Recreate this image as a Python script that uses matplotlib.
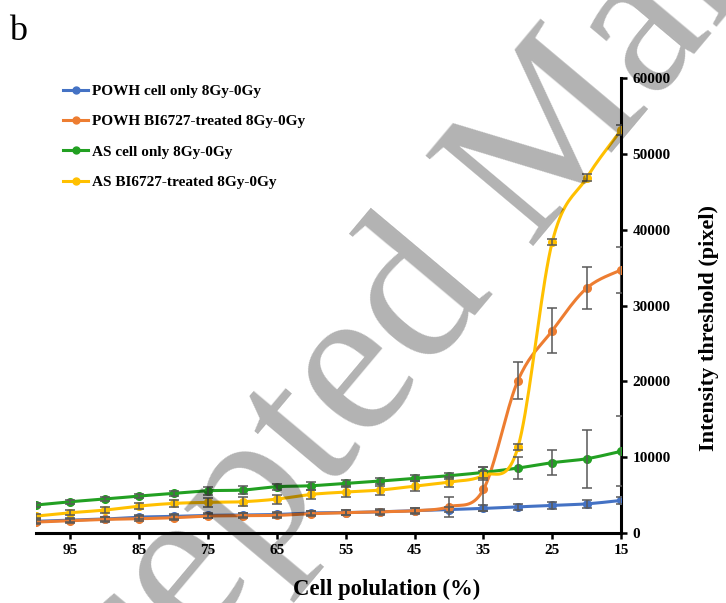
import numpy as np
import matplotlib.pyplot as plt

plt.rcParams['font.family'] = ['Liberation Serif', 'DejaVu Serif']

cell_pop = [100, 95, 90, 85, 80, 75, 70, 65, 60, 55, 50, 45, 40, 35, 30, 25, 20, 15]

powh_cell = [1550, 1700, 1850, 2100, 2200, 2330, 2380, 2450, 2650, 2700, 2800, 2950, 3100, 3250, 3450, 3650, 3850, 4300]
powh_cell_err = [250, 250, 250, 300, 300, 300, 300, 300, 300, 300, 300, 350, 350, 400, 400, 450, 500, 500]

powh_bi = [1450, 1630, 1800, 1890, 2020, 2240, 2290, 2330, 2550, 2680, 2810, 2940, 3470, 5760, 20100, 26700, 32300, 34700]
powh_bi_err = [250, 250, 300, 300, 300, 300, 300, 300, 350, 350, 400, 400, 1300, 2900, 2400, 3000, 2750, 3000]

as_cell = [3700, 4130, 4480, 4880, 5230, 5580, 5670, 6110, 6240, 6550, 6860, 7210, 7560, 8000, 8570, 9280, 9800, 10780]
as_cell_err = [250, 250, 250, 300, 300, 500, 500, 400, 500, 400, 400, 400, 400, 700, 1400, 1650, 3800, 4600]

as_bi = [2240, 2680, 3030, 3560, 3910, 4050, 4130, 4480, 5100, 5410, 5670, 6200, 6730, 7610, 11300, 38420, 46870, 53150]
as_bi_err = [300, 300, 400, 400, 500, 600, 600, 600, 600, 600, 600, 600, 600, 600, 400, 400, 500, 700]

labels = ['POWH cell only 8Gy-0Gy', 'POWH BI6727-treated 8Gy-0Gy',
          'AS cell only 8Gy-0Gy', 'AS BI6727-treated 8Gy-0Gy']
colors = ['#4472C4', '#ED7D31', '#22A022', '#FFC000']


def smooth(x, y, n=20):
    # Excel-like smoothed line (Catmull-Rom bezier)
    x = np.asarray(x, float)
    y = np.asarray(y, float)
    px = np.concatenate([[x[0]], x, [x[-1]]])
    py = np.concatenate([[y[0]], y, [y[-1]]])
    xs, ys = [], []
    t = np.linspace(0, 1, n)
    for i in range(1, len(px) - 2):
        p0 = np.array([px[i], py[i]])
        p3 = np.array([px[i + 1], py[i + 1]])
        c1 = p0 + (np.array([px[i + 1], py[i + 1]]) - np.array([px[i - 1], py[i - 1]])) / 6
        c2 = p3 - (np.array([px[i + 2], py[i + 2]]) - np.array([px[i], py[i]])) / 6
        b = ((1 - t)[:, None] ** 3 * p0 + 3 * ((1 - t) ** 2 * t)[:, None] * c1
             + 3 * ((1 - t) * t ** 2)[:, None] * c2 + (t ** 3)[:, None] * p3)
        xs.extend(b[:, 0])
        ys.extend(b[:, 1])
    return xs, ys


fig = plt.figure(figsize=(7.26, 6.03), dpi=100)
ax = fig.add_axes([0.0496, 0.116, 0.806, 0.7546])

series = [(powh_cell, powh_cell_err), (powh_bi, powh_bi_err),
          (as_cell, as_cell_err), (as_bi, as_bi_err)]
for (vals, err), c, lab in zip(series, colors, labels):
    sx, sy = smooth(cell_pop, vals)
    ax.plot(sx, sy, color=c, lw=2.2, zorder=3)
    ax.plot(cell_pop, vals, 'o', color=c, ms=5.5, zorder=4)
    ax.plot([], [], '-o', color=c, lw=2.2, ms=5, label=lab)
    ax.errorbar(cell_pop, vals, yerr=err, fmt='none', ecolor='#595959',
                elinewidth=1.1, capsize=3.5, capthick=1.1, zorder=5)

ax.set_xlim(100, 15)
ax.set_ylim(0, 60000)
ax.set_xticks([95, 85, 75, 65, 55, 45, 35, 25, 15])
ax.set_yticks(range(0, 60001, 10000))
ax.yaxis.tick_right()
ax.yaxis.set_label_position('right')
for s in ['left', 'top']:
    ax.spines[s].set_visible(False)
for s in ['bottom', 'right']:
    ax.spines[s].set_linewidth(2.2)
ax.tick_params(axis='both', direction='out', length=4, width=1.8,
               labelsize=11, pad=4)
for lb in ax.get_xticklabels() + ax.get_yticklabels():
    lb.set_fontweight('bold')

ax.set_xlabel('Cell polulation (%)', fontsize=16.4, fontweight='bold')
ax.xaxis.set_label_coords(0.60, -0.1)
ax.set_ylabel('Intensity threshold (pixel)', fontsize=16, fontweight='bold',
              rotation=90)
ax.yaxis.set_label_coords(1.133, 0.45)

ax.legend(loc='upper left', bbox_to_anchor=(0.0868, 0.8604), bbox_transform=fig.transFigure,
          frameon=False, prop={'weight': 'bold', 'size': 11},
          handlelength=1.64, handletextpad=0.26, labelspacing=1.09,
          borderpad=0, borderaxespad=0)

fig.text(0.012, 0.933, 'b', fontsize=26)

# watermark
fig.text(0.78, 0.657, 'Accepted Manuscript', fontsize=155, rotation=50,
         rotation_mode='anchor', ha='center', va='baseline',
         color='black', alpha=0.3, zorder=10)

fig.savefig('out.png', dpi=100)
